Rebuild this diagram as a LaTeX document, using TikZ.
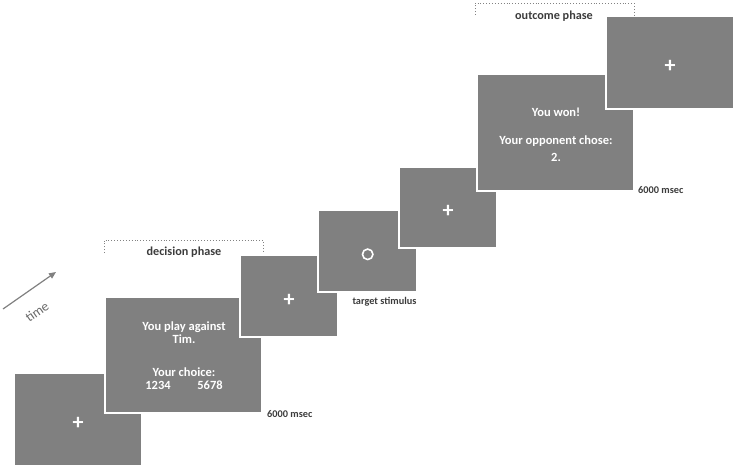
\documentclass[tikz,border=0pt]{standalone}
\usepackage{fontspec}
\setmainfont{Carlito}
\usetikzlibrary{arrows.meta}
\definecolor{scrgray}{RGB}{128,128,128}
\definecolor{lblgray}{RGB}{60,60,60}
\definecolor{brgray}{RGB}{130,130,130}
\definecolor{timegray}{RGB}{105,105,105}
\tikzset{
  screen/.style={draw=white, line width=1.6pt, fill=scrgray, inner sep=0pt, outer sep=0pt},
  scrtext/.style={text=white, font=\fontsize{12.5}{14}\selectfont\bfseries, inner sep=0pt},
  fix/.style={text=white, font=\fontsize{22}{22}\selectfont\bfseries, inner sep=0pt},
  lbl/.style={text=lblgray, font=\fontsize{10.3}{11}\selectfont\bfseries, inner sep=0pt},
  phase/.style={text=lblgray, font=\fontsize{12.2}{13}\selectfont\bfseries, inner sep=0pt},
  bracket/.style={draw=brgray, line width=0.9pt, dotted},
}
\begin{document}
\begin{tikzpicture}[x=1pt, y=-1pt]
\useasboundingbox (0,0) rectangle (737,469);
% screens (later ones on top)
\node[screen, minimum width=128pt, minimum height=93pt] (s1) at (78,419.5) {};
\node[fix] (p1) at (78,423) {+};
\node[screen, minimum width=157pt, minimum height=116pt] (s2) at (183.5,355) {};
\node[scrtext] (s2a) at (184,327) {You play against};
\node[scrtext] (s2b) at (184,339) {Tim.};
\node[scrtext] (s2c) at (184,372) {Your choice:};
\node[scrtext] (s2d) at (158,385) {1234};
\node[scrtext] (s2e) at (210,385) {5678};
\node[screen, minimum width=98pt, minimum height=82pt] (s3) at (289,296) {};
\node[fix] (p3) at (289,300) {+};
\node[screen, minimum width=99pt, minimum height=82pt] (s4) at (367.5,251) {};
\node[draw=white, line width=1.6pt, circle, minimum size=10.5pt, inner sep=0pt] (c4) at (367.7,254.3) {};
\node[screen, minimum width=98pt, minimum height=81pt] (s5) at (448,207.5) {};
\node[fix] (p5) at (448,211) {+};
\node[screen, minimum width=157pt, minimum height=117pt] (s6) at (555.5,132.5) {};
\node[scrtext] (s6a) at (556,112) {You won!};
\node[scrtext] (s6b) at (556,141) {Your opponent chose:};
\node[scrtext] (s6c) at (556,157) {2.};
\node[screen, minimum width=128pt, minimum height=93pt] (s7) at (670,62.5) {};
\node[fix] (p7) at (670,66) {+};
% labels
\node[lbl, anchor=west] (d1) at (267,414) {6000 msec};
\node[lbl] (ts) at (384.5,302) {target stimulus};
\node[lbl, anchor=west] (d2) at (638,190) {6000 msec};
% brackets
\coordinate (db1) at (104,253);
\coordinate (db2) at (104,240);
\coordinate (db3) at (263,240);
\coordinate (db4) at (263,253);
\draw[bracket] (db1) -- (db2) -- (db3) -- (db4);
\node[phase] (dp) at (184,252) {decision phase};
\coordinate (ob1) at (475,15);
\coordinate (ob2) at (475,3);
\coordinate (ob3) at (634,3);
\coordinate (ob4) at (634,15);
\draw[bracket] (ob1) -- (ob2) -- (ob3) -- (ob4);
\node[phase] (op) at (554,16) {outcome phase};
% time arrow
\coordinate (t0) at (3,309);
\coordinate (t1) at (56,272);
\draw[draw=scrgray, line width=1.2pt, -{Stealth[length=7pt, width=6pt, inset=0pt]}] (t0) -- (t1);
\node[text=timegray, font=\fontsize{13.5}{14}\selectfont, rotate=35, inner sep=0pt] (tm) at (37,312) {time};
\end{tikzpicture}
\end{document}
